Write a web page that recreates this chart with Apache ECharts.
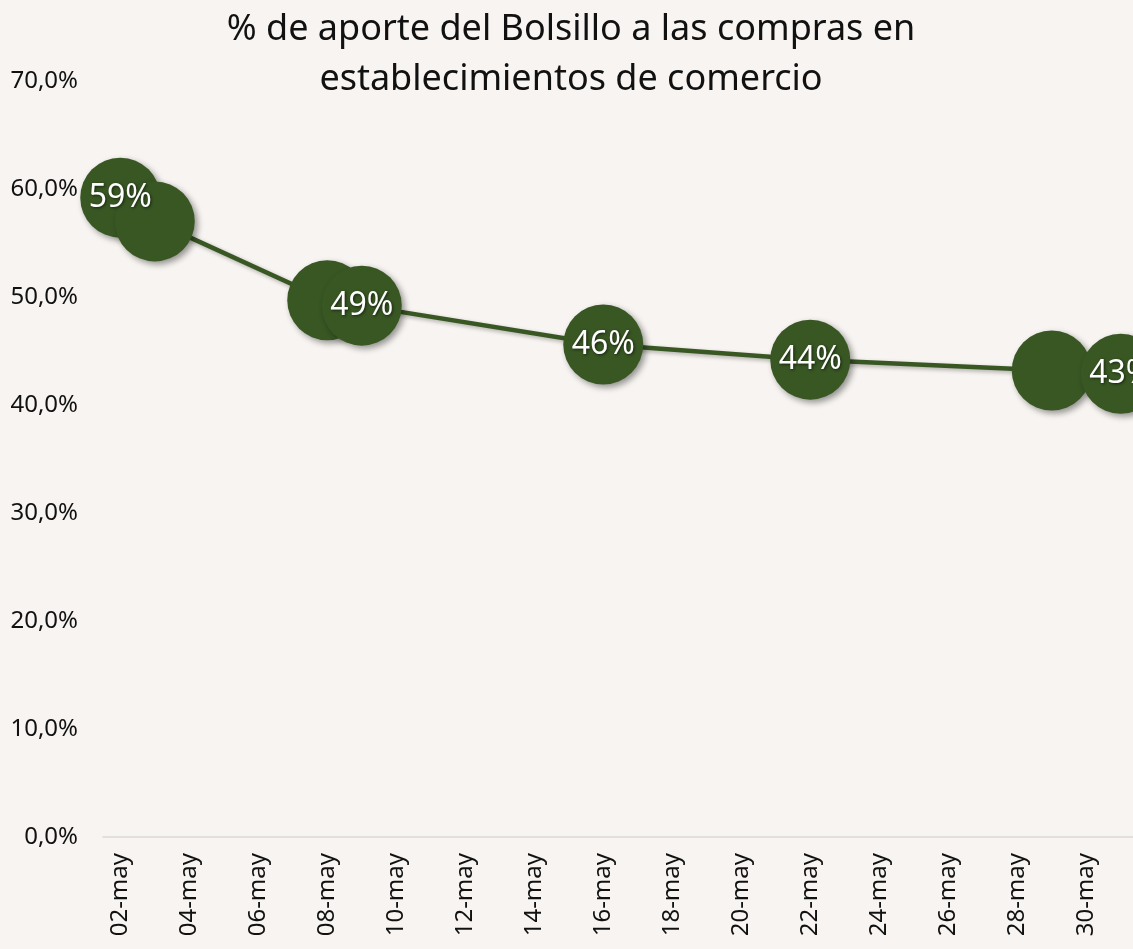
<!DOCTYPE html>
<html>
<head>
    <meta charset="utf-8">
    <title>% de aporte del Bolsillo</title>
    <style>
        html, body { margin: 0; padding: 0; background: #f7f4f1; overflow: hidden; }
        #chart { width: 1140px; height: 949px; }
    </style>
</head>
<body>
    <div id="chart"></div>
    <script src="https://cdn.jsdelivr.net/npm/echarts@6/dist/echarts.min.js"></script>
    <script>
        // dias del mes (eje de categorias)
        var dias = ['02-may', '03-may', '04-may', '05-may', '06-may', '07-may', '08-may', '09-may', '10-may',
            '11-may', '12-may', '13-may', '14-may', '15-may', '16-may', '17-may', '18-may', '19-may', '20-may',
            '21-may', '22-may', '23-may', '24-may', '25-may', '26-may', '27-may', '28-may', '29-may', '30-may', '31-may'];
        // % de aporte (null = sin dato)
        var aporte = [59.2, 57.0, null, null, null, null, 49.7, 49.2, null,
            null, null, null, null, null, 45.6, null, null, null, null,
            null, 44.2, null, null, null, null, null, null, 43.2, null, 42.9];
        // puntos con etiqueta
        var conEtiqueta = [true, false, false, false, false, false, false, true, false,
            false, false, false, false, false, true, false, false, false, false,
            false, true, false, false, false, false, false, false, false, false, true];

        var verde = '#385723';
        var chart = echarts.init(document.getElementById('chart'));

        var datos = aporte.map(function (v, i) {
            return { value: v, label: { show: conEtiqueta[i] } };
        });

        chart.setOption({
            backgroundColor: '#f7f4f1',
            textStyle: { fontFamily: 'Noto Sans' },
            title: {
                text: '% de aporte del Bolsillo a las compras en\nestablecimientos de comercio',
                left: 566,
                textAlign: 'center',
                top: 0,
                textStyle: { fontSize: 36, fontWeight: 'normal', color: '#111', lineHeight: 50, fontFamily: 'Noto Sans' }
            },
            grid: { left: 103, top: 81, right: 2, height: 756 },
            xAxis: {
                type: 'category',
                data: dias,
                boundaryGap: true,
                axisLine: { lineStyle: { color: '#d9d9d9', width: 1.5 } },
                axisTick: { show: false },
                axisLabel: { interval: 1, rotate: 90, margin: 16, fontSize: 24, color: '#111' }
            },
            yAxis: {
                type: 'value',
                min: 0,
                max: 70,
                interval: 10,
                splitLine: { show: false },
                axisLine: { show: false },
                axisTick: { show: false },
                axisLabel: {
                    margin: 25, fontSize: 24, color: '#111',
                    formatter: function (v) { return v.toFixed(1).replace('.', ',') + '%'; }
                }
            },
            series: [{
                type: 'line',
                data: datos,
                connectNulls: true,
                showAllSymbol: true,
                symbol: 'circle',
                symbolSize: 80,
                lineStyle: {
                    color: verde, width: 4.5,
                    shadowColor: 'rgba(0,0,0,0.3)', shadowBlur: 4, shadowOffsetX: 2, shadowOffsetY: 2
                },
                itemStyle: {
                    color: verde,
                    shadowColor: 'rgba(0,0,0,0.4)', shadowBlur: 6, shadowOffsetX: 3, shadowOffsetY: 3
                },
                label: {
                    position: 'inside',
                    fontSize: 32,
                    color: '#fff',
                    textShadowColor: 'rgba(0,0,0,0.6)',
                    textShadowBlur: 3,
                    textShadowOffsetX: 1,
                    textShadowOffsetY: 1,
                    formatter: function (p) { return Math.round(p.value) + '%'; }
                },
                emphasis: { disabled: true },
                animation: false
            }]
        });
    </script>
</body>
</html>
